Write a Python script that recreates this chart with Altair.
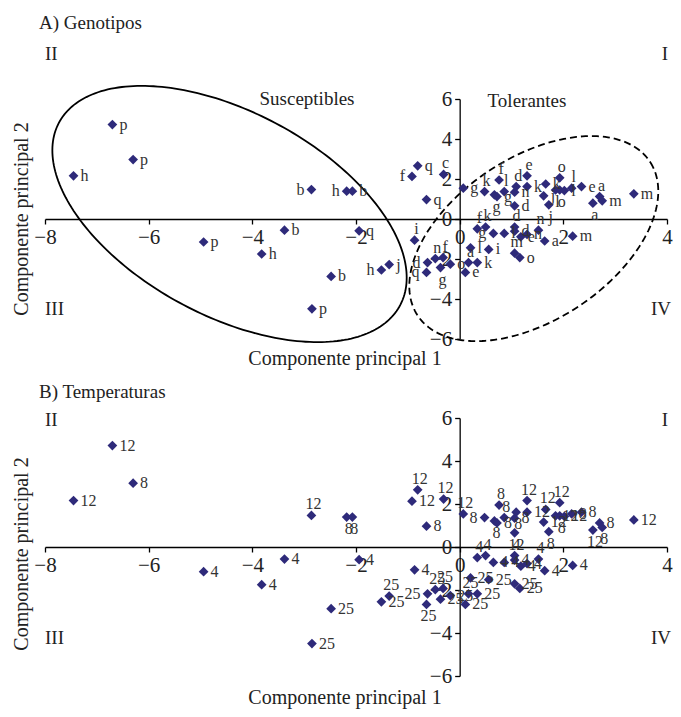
import altair as alt
import numpy as np
import pandas as pd

# ---- data (PCA scores) ----
pc1 = [-6.70, -6.30, -7.45, -2.86, -2.18, -2.07, -0.92, -0.81, -0.64, -0.31,
       -3.38, -1.94, -4.94, -3.82, -0.87, -2.48, -1.51, -1.36, -2.85, -0.62, -0.47, -0.32, -0.37, -0.64, -0.18,
       0.07, 0.48, 0.67, 0.72, 0.76, 0.86, 1.06, 1.09, 1.06, 1.30, 1.30, 1.66, 1.62, 1.72, 1.93, 1.85, 1.93, 2.02,
       2.16, 2.35, 2.57, 2.70, 2.75, 3.36,
       0.34, 0.50, 0.65, 0.86, 1.06, 1.06, 1.18, 1.30, 1.52, 1.64, 2.18, 0.21, 0.56, 1.06, 1.16, 0.17, 0.34, 0.11]
pc2 = [4.72, 2.97, 2.16, 1.47, 1.39, 1.39, 2.13, 2.66, 0.97, 2.23,
       -0.56, -0.59, -1.15, -1.75, -1.06, -2.87, -2.55, -2.28, -4.49, -2.18, -1.98, -1.93, -2.43, -2.67, -2.26,
       1.54, 1.37, 1.21, 1.12, 1.95, 1.37, 1.34, 1.62, 0.66, 2.16, 1.62, 1.75, 1.16, 0.71, 2.06, 1.45, 1.45, 1.42,
       1.54, 1.62, 0.79, 1.12, 0.91, 1.26,
       -0.49, -0.40, -0.72, -0.72, -0.40, -0.61, -0.89, -0.77, -0.56, -1.10, -0.86, -1.44, -1.52, -1.71, -1.93,
       -2.18, -2.18, -2.67]
genotipo = ["p", "p", "h", "b", "h", "b", "f", "q", "q", "c",
            "b", "q", "p", "h", "i", "b", "h", "j", "p", "d", "n", "f", "g", "q", "o",
            "g", "k", "g", "g", "f", "l", "n", "d", "d", "e", "k", "k", "j", "j", "o", "l", "o", "l",
            "l", "e", "a", "a", "m", "m",
            "f", "k", "g", "l", "d", "d", "e", "n", "n", "a", "m", "l", "i", "m", "o", "a", "k", "e"]
temperatura = [12, 8, 12, 12, 8, 8, 12, 12, 8, 12,
               4, 4, 4, 4, 4, 25, 25, 25, 25, 25, 25, 25, 25, 25, 25,
               12, 8, 8, 8, 8, 8, 8, 8, 12, 12, 12, 12, 12, 8, 12, 12, 8, 12,
               8, 8, 12, 8, 8, 12,
               4, 4, 4, 4, 4, 4, 4, 4, 4, 4, 4, 25, 25, 25, 25, 25, 25, 25]

# side of each point on which its label sits (default: right)
lado_gen = {3: "l", 4: "l", 6: "l", 9: "t", 14: "t", 16: "l", 19: "l", 20: "t", 21: "t",
            22: "b", 23: "l", 26: "t", 27: "b", 29: "t", 30: "t", 32: "t", 34: "t",
            38: "b", 39: "t", 40: "b", 41: "b", 43: "t", 45: "b", 46: "t",
            49: "t", 50: "t", 51: "l", 53: "t", 57: "t", 62: "t", 64: "t"}
lado_temp = {3: "t", 4: "b", 5: "b", 7: "t", 9: "t", 17: "t", 19: "l", 20: "t", 21: "t",
             23: "b", 25: "t", 26: "l", 27: "b", 29: "t", 30: "t", 32: "b", 33: "b", 34: "t",
             36: "t", 38: "b", 39: "t", 41: "b", 45: "b", 47: "b",
             49: "t", 50: "t", 53: "t", 57: "t", 64: "t"}

ticks_x = [-8, -6, -4, -2, 0, 2, 4]
ticks_y = [-6, -4, -2, 0, 2, 4, 6]

# ellipse annotations (centre, half-axis vectors) in data units
elipse_sus = {"c": (-4.44, 0.25), "a": (3.30, -4.52), "b": (-0.89, -4.54)}
elipse_tol = {"c": (1.43, -0.98), "a": (2.25, 3.81), "b": (0.84, -3.43)}

FONT = "Liberation Serif"
PT_COLOR = "#2e2a7a"
TXT = "#222222"
W = 622
HA = 240
HB = 258
XMIN, XMAX = -8, 4
YMIN, YMAX = -6, 6

n = len(pc1)
df = pd.DataFrame({"pc1": pc1, "pc2": pc2, "gen": genotipo,
                   "temp": [str(t) for t in temperatura],
                   "lado_gen": [lado_gen.get(i, "r") for i in range(n)],
                   "lado_temp": [lado_temp.get(i, "r") for i in range(n)]})


def axes(H):
    common = dict(grid=False, title=None, domainColor="#000", domainWidth=1.3,
                  tickColor="#000", tickWidth=1.3, tickSize=5, labelFont=FONT,
                  labelFontSize=21, labelColor=TXT, labelFlush=False, labelOverlap=False)
    x = alt.X("pc1:Q", scale=alt.Scale(domain=[XMIN, XMAX], nice=False, zero=False),
              axis=alt.Axis(values=ticks_x, offset=-H * (0 - YMIN) / (YMAX - YMIN),
                            labelPadding=2, **common))
    y = alt.Y("pc2:Q", scale=alt.Scale(domain=[YMIN, YMAX], nice=False, zero=False),
              axis=alt.Axis(values=ticks_y, offset=-W * (0 - XMIN) / (XMAX - XMIN),
                            labelPadding=3, **common))
    return x, y


one = pd.DataFrame({"k": [0]})


def note(text, x, y, size=19, align="left", angle=0):
    props = dict(text=text, align=align, baseline="middle", font=FONT,
                 fontSize=size, color=TXT)
    if angle:
        props["angle"] = angle
    return alt.Chart(one).mark_text(**props).encode(x=alt.value(x), y=alt.value(y))


def ellipse_layer(e, H, dash):
    t = np.linspace(0, 2 * np.pi, 241)
    d = pd.DataFrame({
        "pc1": e["c"][0] + e["a"][0] * np.cos(t) + e["b"][0] * np.sin(t),
        "pc2": e["c"][1] + e["a"][1] * np.cos(t) + e["b"][1] * np.sin(t),
        "i": np.arange(len(t)),
    })
    x, y = axes(H)
    props = dict(color="#000", strokeWidth=1.8)
    if dash:
        props["strokeDash"] = [7, 4]
    return alt.Chart(d).mark_line(**props).encode(x=x, y=y, order="i:Q")


SIDES = {"r": dict(align="left", dx=7, dy=0),
         "l": dict(align="right", dx=-7, dy=0),
         "t": dict(align="center", dx=2, dy=-11),
         "b": dict(align="center", dx=2, dy=12)}


def panel(label_field, H, title, quad_y_top, quad_y_bot, title_y, xt_y, yt_y, extra=None):
    x, y = axes(H)
    base = alt.Chart(df).encode(x=x, y=y)
    pts = base.mark_point(shape="diamond", filled=True, size=95, color=PT_COLOR, opacity=1)
    labs = []
    for side, p in SIDES.items():
        labs.append(base.transform_filter(alt.datum[f"lado_{label_field}"] == side)
                    .mark_text(baseline="middle", font=FONT, fontSize=16, color="#333333", **p)
                    .encode(text=f"{label_field}:N"))
    layers = []
    if extra:
        layers += extra
    layers += [pts] + labs + [
        note(title, -6, title_y),
        note("II", 0, quad_y_top), note("I", W + 1, quad_y_top, align="right"),
        note("III", 0, quad_y_bot), note("IV", W + 4, quad_y_bot, align="right"),
        note("Componente principal 1", 300, xt_y, size=20, align="center"),
        note("Componente principal 2", -23, yt_y, size=20, align="center", angle=270)]
    return alt.layer(*layers).properties(width=W, height=H)


pA = panel("gen", HA, "A) Genotipos", -45, 210, -76, 260, 120,
           extra=[ellipse_layer(elipse_sus, HA, False), ellipse_layer(elipse_tol, HA, True),
                  note("Susceptibles", 262, 0, align="center"),
                  note("Tolerantes", 482, 2, align="center")])
pB = panel("temp", HB, "B) Temperaturas", 2, 220, -26, 280, 136)

chart = (alt.vconcat(pA, pB, spacing=12)
         .properties(padding={"left": 3, "top": 5, "right": 0, "bottom": 0})
         .configure_view(stroke="transparent"))

chart.save("out.html", embed_options={"renderer": "svg", "actions": False})
